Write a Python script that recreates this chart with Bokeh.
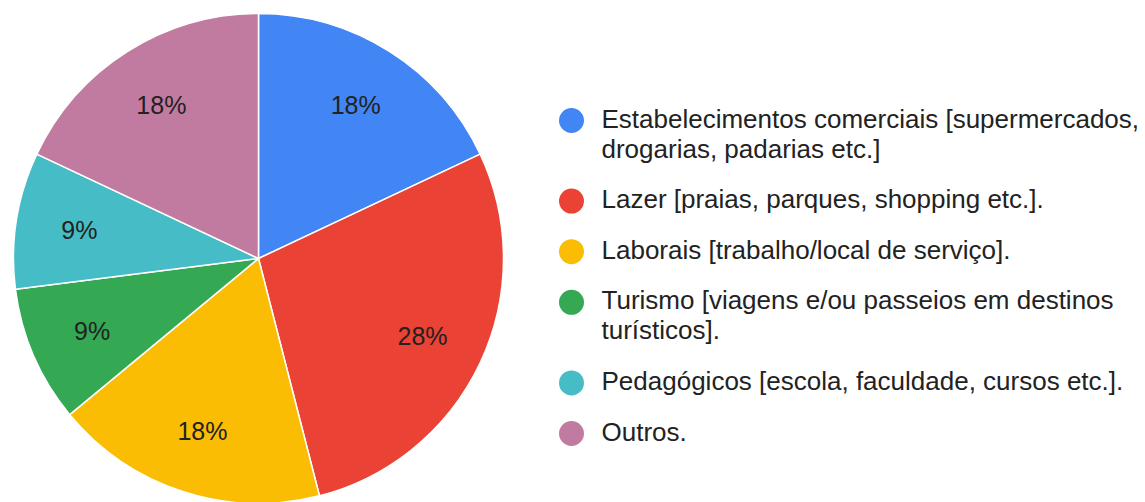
import math
from bokeh.plotting import figure
from bokeh.models import ColumnDataSource, Range1d
from bokeh.core.properties import value
from bokeh.embed import file_html
from bokeh.resources import INLINE

categories = [
    "Estabelecimentos comerciais [supermercados,\ndrogarias, padarias etc.]",
    "Lazer [praias, parques, shopping etc.].",
    "Laborais [trabalho/local de serviço].",
    "Turismo [viagens e/ou passeios em destinos\nturísticos].",
    "Pedagógicos [escola, faculdade, cursos etc.].",
    "Outros.",
]
percentages = [18, 28, 18, 9, 9, 18]
colors = ["#4285F4", "#EA4335", "#FBBC04", "#34A853", "#46BDC6", "#C27BA0"]

W, H = 1145, 502
FONT = "Liberation Sans"

def py(page_y):
    return H - page_y

p = figure(width=W, height=H, output_backend="svg", toolbar_location=None,
           x_range=Range1d(0, W), y_range=Range1d(0, H),
           min_border=0, outline_line_color=None)
p.axis.visible = False
p.grid.visible = False
p.background_fill_color = "white"
p.border_fill_color = "white"

cx, cy, R = 258, py(258), 245
total = sum(percentages)
starts, ends, lx, ly = [], [], [], []
cum = 0.0
for v in percentages:
    a0 = math.pi / 2 - 2 * math.pi * cum / total
    cum += v
    a1 = math.pi / 2 - 2 * math.pi * cum / total
    starts.append(a0)
    ends.append(a1)
    mid = (a0 + a1) / 2
    lx.append(cx + 0.74 * R * math.cos(mid))
    ly.append(cy + 0.74 * R * math.sin(mid))

src = ColumnDataSource(dict(start=starts, end=ends, color=colors,
                            lx=lx, ly=ly, lab=[f"{v}%" for v in percentages]))
p.wedge(x=cx, y=cy, radius=R, start_angle="start", end_angle="end",
        direction="clock", fill_color="color", line_color="white",
        line_width=1.5, source=src)
p.text(x="lx", y="ly", text="lab", source=src, text_align="center",
       text_baseline="middle", text_font=value(FONT), text_font_size="25px",
       text_color="#222222")

# legend
first_line_y = 120
line_gap = 30
item_gap = 50.6
text_dy = -2
ty = first_line_y
mx, my, mc, tx, tyy, tt = [], [], [], [], [], []
for cat, col in zip(categories, colors):
    lines = cat.split("\n")
    mx.append(571)
    my.append(py(ty))
    mc.append(col)
    for i, ln in enumerate(lines):
        tx.append(601)
        tyy.append(py(ty + i * line_gap + text_dy))
        tt.append(ln)
    ty += (len(lines) - 1) * line_gap + item_gap

p.scatter(x=mx, y=my, size=25, color=mc, line_color=None)
p.text(x=tx, y=tyy, text=tt, text_align="left", text_baseline="middle",
       text_font=value(FONT), text_font_size="26px", text_color="#222222")

open("out.html", "w").write(file_html(p, INLINE))
